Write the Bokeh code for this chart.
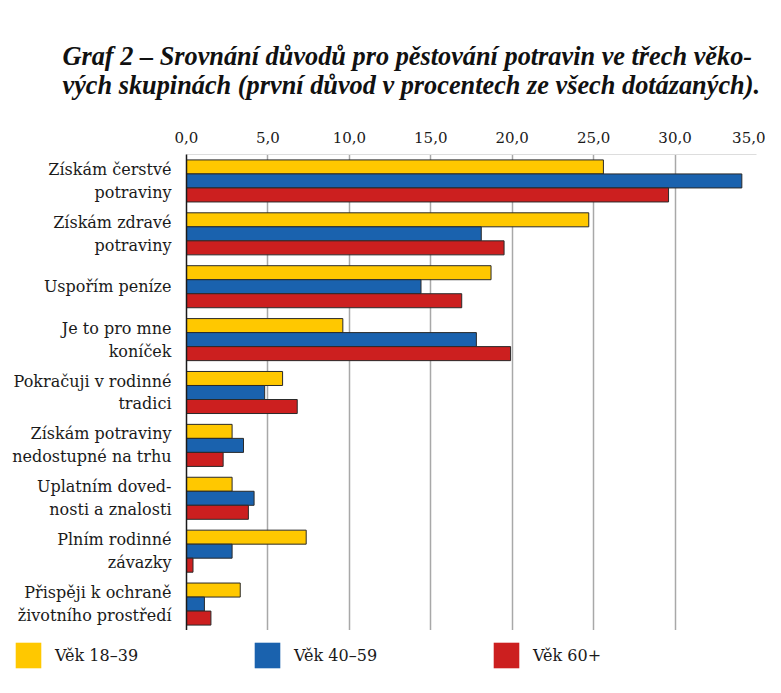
from bokeh.plotting import figure
from bokeh.layouts import column, row
from bokeh.models import FactorRange, FixedTicker, Legend, LegendItem, Title, ColumnDataSource
from bokeh.transform import dodge
from bokeh.embed import file_html
from bokeh.resources import INLINE

categories = [
    "Získám čerstvé\npotraviny",
    "Získám zdravé\npotraviny",
    "Uspořím peníze",
    "Je to pro mne\nkoníček",
    "Pokračuji v rodinné\ntradici",
    "Získám potraviny\nnedostupné na trhu",
    "Uplatním doved-\nnosti a znalosti",
    "Plním rodinné\nzávazky",
    "Přispěji k ochraně\nživotního prostředí",
]
vek_18_39 = [25.6, 24.7, 18.7, 9.6, 5.9, 2.8, 2.8, 7.35, 3.3]
vek_40_59 = [34.1, 18.1, 14.4, 17.8, 4.8, 3.5, 4.15, 2.8, 1.1]
vek_60 = [29.6, 19.5, 16.9, 19.9, 6.8, 2.25, 3.8, 0.4, 1.5]
series_names = ["Věk 18–39", "Věk 40–59", "Věk 60+"]
colors = ["#FFC800", "#1A62AE", "#CC1F1F"]
ticks = [0, 5, 10, 15, 20, 25, 30, 35]
tick_labels = ["0,0", "5,0", "10,0", "15,0", "20,0", "25,0", "30,0", "35,0"]
title_text = ("Graf 2 – Srovnání důvodů pro pěstování potravin ve třech věko-\n"
              "vých skupinách (první důvod v procentech ze všech dotázaných).")

src = ColumnDataSource(dict(cat=categories, a=vek_18_39, b=vek_40_59, c=vek_60))

SERIF = "DejaVu Serif"

p = figure(frame_width=570, frame_height=476, output_backend="svg", toolbar_location=None,
           y_range=FactorRange(factors=categories[::-1], range_padding=0.0),
           x_range=(0, 35), x_axis_location="above",
           min_border_left=186, min_border_right=9, min_border_bottom=0,
           min_border_top=154)
p.outline_line_color = None

bh = 0.265
offs = [0.265, 0.0, -0.265]
for key, col, off in zip(["a", "b", "c"], colors, offs):
    p.hbar(y=dodge("cat", off, range=p.y_range), right=key, left=0, height=bh,
           source=src, fill_color=col, line_color="#2a2a2a", line_width=1)

t = Title(text=title_text, text_font="Liberation Serif", text_font_style="bold italic",
          text_font_size="26.3px", text_color="#111111", offset=-124, standoff=58)
p.add_layout(t, "above")

xa = p.xaxis[0]
xa.ticker = FixedTicker(ticks=ticks)
xa.major_label_overrides = {t: l for t, l in zip(ticks, tick_labels)}
xa.major_label_text_font = SERIF
xa.major_label_text_font_size = "15px"
xa.major_label_text_color = "#1a1a1a"
xa.axis_line_color = "#dddddd"
xa.major_tick_line_color = None
xa.minor_tick_line_color = None
xa.major_label_standoff = 6

ya = p.yaxis[0]
ya.axis_line_color = "#1a1a1a"
ya.axis_line_width = 1.5
ya.major_tick_line_color = None
ya.minor_tick_line_color = None
ya.major_label_text_font = SERIF
ya.major_label_text_font_size = "16px"
ya.major_label_text_color = "#1a1a1a"
ya.major_label_standoff = 9

p.xgrid.ticker = FixedTicker(ticks=ticks[1:-1])
p.xgrid.grid_line_color = "#a8a8a8"
p.xgrid.grid_line_width = 1.5
p.ygrid.grid_line_color = None

# legend in a separate strip figure below (no axes)
lg = figure(width=765, height=45, output_backend="svg", toolbar_location=None,
            x_range=(0, 1), y_range=(0, 1), min_border=0,
            x_axis_type=None, y_axis_type=None)
lg.grid.visible = False
lg.outline_line_color = None
legend_renderers = [lg.rect(x=[0], y=[0], width=0, height=0, fill_color=c, line_color=None)
                    for c in colors]
legend = Legend(items=[LegendItem(label=n, renderers=[r]) for n, r in zip(series_names, legend_renderers)],
                orientation="horizontal", location=(12, 4),
                glyph_width=32, glyph_height=32, label_standoff=11, label_width=196,
                spacing=0, padding=0, margin=0, border_line_color=None,
                background_fill_alpha=0,
                label_text_font=SERIF, label_text_font_size="16px",
                label_text_color="#1a1a1a")
lg.add_layout(legend, "center")

layout = column(p, row(lg), spacing=0)
open("out.html", "w").write(file_html(layout, INLINE))
